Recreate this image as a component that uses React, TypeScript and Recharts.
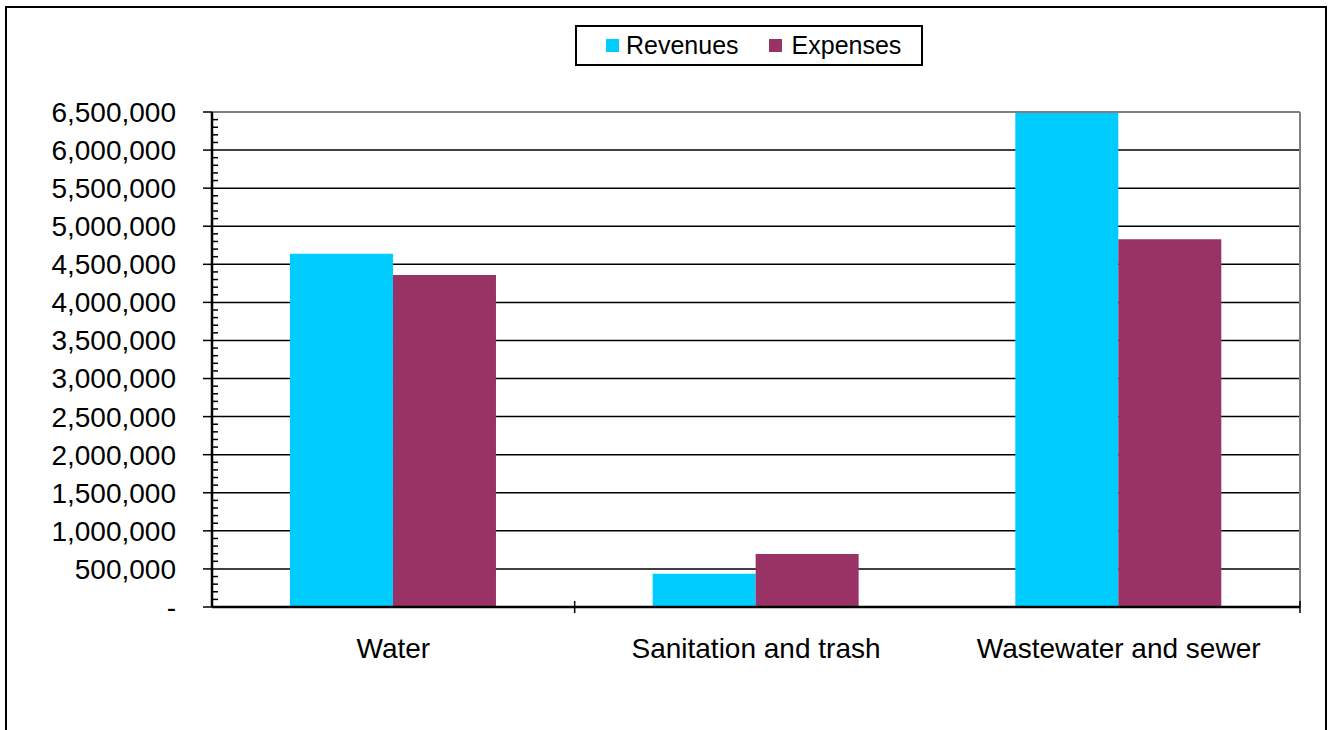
import React from "react"
import { Bar, BarChart, CartesianGrid, Legend, ReferenceLine, XAxis, YAxis } from "recharts"

const categories = ["Water", "Sanitation and trash", "Wastewater and sewer"]
const revenues = [4640000, 437000, 6505000]
const expenses = [4360000, 696000, 4830000]

const majorTicks = [
  0, 500000, 1000000, 1500000, 2000000, 2500000, 3000000, 3500000, 4000000, 4500000, 5000000, 5500000,
  6000000, 6500000,
]
const minorTicks = Array.from({ length: 66 }, (_, i) => i * 100000).filter((v) => v % 500000 !== 0)
// categories whose right-hand boundary carries a tick mark
const boundaryTickIndexes = [0, 2]

const revenueColor = "#00CCFF"
const expenseColor = "#993366"
const font = "'Liberation Sans', Arial, sans-serif"
const labelGap = 31

const series = [
  { key: "revenues", name: "Revenues", color: revenueColor },
  { key: "expenses", name: "Expenses", color: expenseColor },
]

const data = categories.map((name, i) => ({ name, revenues: revenues[i], expenses: expenses[i] }))

const formatTick = (v: number) => (v === 0 ? "-" : v.toLocaleString("en-US"))

function LegendBox() {
  return (
    <div
      style={{
        boxSizing: "border-box",
        width: 348,
        height: 41,
        border: "2px solid #000",
        background: "#fff",
        display: "flex",
        alignItems: "center",
        paddingLeft: 29,
        fontFamily: font,
        fontSize: 25,
        lineHeight: 1,
        color: "#000",
      }}
    >
      {series.map((s, i) => (
        <div key={s.key} style={{ display: "flex", alignItems: "center", marginLeft: i === 0 ? 0 : 30 }}>
          <span style={{ width: 13, height: 13, background: s.color, marginRight: i === 0 ? 7 : 10 }} />
          <span>{s.name}</span>
        </div>
      ))}
    </div>
  )
}

function CategoryTick(props: any) {
  const { x, y, payload, index, width, visibleTicksCount } = props
  const half = width / visibleTicksCount / 2
  const axisY = y - labelGap
  return (
    <g>
      <text
        x={x}
        y={y}
        dy="0.71em"
        textAnchor="middle"
        fontSize={28}
        fontFamily={font}
        fill="#000"
      >
        {payload.value}
      </text>
      {boundaryTickIndexes.includes(index) && (
        <line x1={x + half} x2={x + half} y1={axisY - 6} y2={axisY + 6} stroke="#000" strokeWidth={1.5} />
      )}
    </g>
  )
}

export default function App() {
  return (
    <div style={{ position: "absolute", left: 0, top: 0, width: 1328, height: 730, background: "#fff" }}>
      <div
        style={{
          position: "absolute",
          left: 5,
          top: 6,
          width: 1322,
          height: 740,
          boxSizing: "border-box",
          borderLeft: "2px solid #000",
          borderTop: "2px solid #000",
          borderRight: "2px solid #000",
        }}
      />
      <div style={{ position: "absolute", left: 0, top: 0 }}>
        <BarChart
          width={1328}
          height={730}
          data={data}
          margin={{ top: 112, right: 28, left: 12, bottom: 63 }}
          barCategoryGap="21.5%"
          barGap={0}
        >
          <CartesianGrid horizontal vertical={false} stroke="#000" strokeWidth={1.5} />
          <CartesianGrid
            horizontal={false}
            vertical
            stroke="#808080"
            strokeWidth={2}
            verticalCoordinatesGenerator={({ offset }: any) => [offset.left + offset.width]}
          />
          <XAxis
            dataKey="name"
            height={60}
            axisLine={{ stroke: "#000", strokeWidth: 2.5 }}
            tickLine={false}
            tickSize={0}
            tickMargin={labelGap}
            interval={0}
            tick={<CategoryTick />}
          />
          <YAxis
            width={200}
            domain={[0, 6500000]}
            allowDataOverflow
            ticks={majorTicks}
            interval={0}
            tickFormatter={formatTick}
            tickSize={9}
            tickMargin={27}
            axisLine={{ stroke: "#000", strokeWidth: 2.5 }}
            tickLine={{ stroke: "#000", strokeWidth: 1.5 }}
            tick={{ fontSize: 28, fill: "#000", fontFamily: font }}
          />
          <YAxis
            yAxisId="minor"
            mirror
            width={10}
            domain={[0, 6500000]}
            allowDataOverflow
            ticks={minorTicks}
            interval={0}
            tickFormatter={() => ""}
            tickSize={6}
            axisLine={false}
            tickLine={{ stroke: "#000", strokeWidth: 1.5 }}
          />
          <ReferenceLine y={6500000} stroke="#808080" strokeWidth={2} />
          <Legend
            layout="horizontal"
            verticalAlign="middle"
            align="center"
            wrapperStyle={{ left: 575, top: 25, width: 348, height: 41 }}
            content={() => <LegendBox />}
          />
          {series.map((s) => (
            <Bar key={s.key} dataKey={s.key} name={s.name} fill={s.color} isAnimationActive={false} />
          ))}
        </BarChart>
      </div>
    </div>
  )
}
